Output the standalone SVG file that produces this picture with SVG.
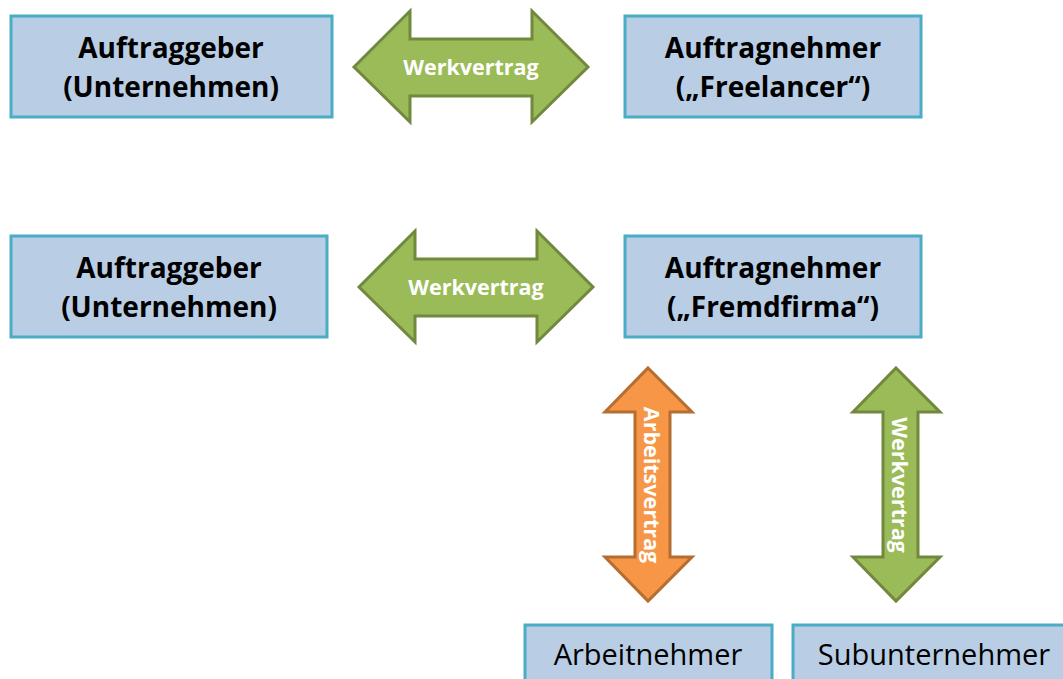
<svg xmlns="http://www.w3.org/2000/svg" width="1063" height="679" viewBox="0 0 1063 679">
<style>
.box{fill:#b9cde5;stroke:#4bacc6;stroke-width:3}
.bt{font-family:"Open Sans","Liberation Sans",sans-serif;font-weight:bold;font-size:28px;fill:#000;text-anchor:middle}
.rt{font-family:"Open Sans","Liberation Sans",sans-serif;font-size:29px;fill:#000;text-anchor:middle}
.g{fill:#9bbb59;stroke:#71893f;stroke-width:3;stroke-linejoin:miter}
.o{fill:#f79646;stroke:#b66d31;stroke-width:3}
.at{font-family:"Open Sans","Liberation Sans",sans-serif;font-weight:bold;font-size:21.5px;fill:#fff;text-anchor:middle}
</style>
<rect width="1063" height="679" fill="#fff"/>
<g id="n1"><rect class="box" x="11" y="16" width="321" height="101"/><text class="bt" x="171" y="58">Auftraggeber</text><text class="bt" x="171" y="97">(Unternehmen)</text></g>
<g id="n2"><rect class="box" x="625" y="16" width="296" height="101"/><text class="bt" x="773" y="58">Auftragnehmer</text><text class="bt" x="773" y="97">(„Freelancer“)</text></g>
<g id="n3"><rect class="box" x="11" y="236" width="316" height="101"/><text class="bt" x="169" y="278">Auftraggeber</text><text class="bt" x="169" y="317">(Unternehmen)</text></g>
<g id="n4"><rect class="box" x="625" y="236" width="296" height="101"/><text class="bt" x="773" y="278">Auftragnehmer</text><text class="bt" x="773" y="317">(„Fremdfirma“)</text></g>
<g id="n5"><rect class="box" x="525" y="625" width="247" height="70"/><text class="rt" x="648" y="665">Arbeitnehmer</text></g>
<g id="n6"><rect class="box" x="793" y="625" width="290" height="70"/><text class="rt" x="934" y="665">Subunternehmer</text></g>
<g id="connectors">
<g id="c1"><path class="g" d="M354,67 L410,11 L410,39 L532,39 L532,11 L588,67 L532,122 L532,96 L410,96 L410,122 Z"/><text class="at" x="471" y="75">Werkvertrag</text></g>
<g id="c2"><path class="g" d="M359,287 L415,231 L415,259 L537,259 L537,231 L593,287 L537,342 L537,316 L415,316 L415,342 Z"/><text class="at" x="476" y="295">Werkvertrag</text></g>
<g id="c3"><path class="o" d="M648,368 L692,412 L670,412 L670,557 L692,557 L648,601 L605,557 L635,557 L635,412 L605,412 Z"/><text class="at" transform="translate(644,485) rotate(90)" x="0" y="0">Arbeitsvertrag</text></g>
<g id="c4"><path class="g" d="M896,368 L940,412 L918,412 L918,557 L940,557 L896,601 L853,557 L883,557 L883,412 L853,412 Z"/><text class="at" transform="translate(892,485) rotate(90)" x="0" y="0">Werkvertrag</text></g>
</g>
</svg>
